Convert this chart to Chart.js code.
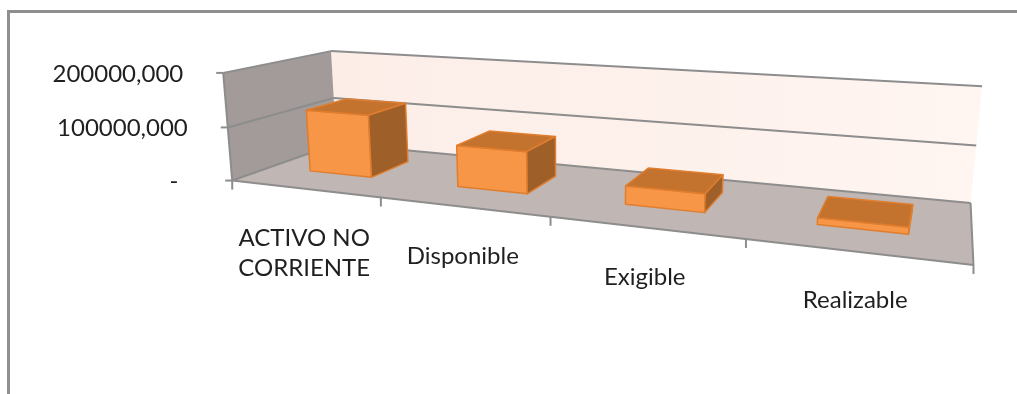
<!DOCTYPE html>
<html>
<head>
<meta charset="utf-8">
<script src="https://cdn.jsdelivr.net/npm/chart.js@4"></script>
<style>
    html, body { margin: 0; padding: 0; background: #fff; overflow: hidden; }
    #wrap { position: relative; width: 1017px; height: 394px; }
    #frame {
        position: absolute; left: 7px; top: 10px; right: -10px; bottom: -10px;
        border-top: 3px solid #8f8f8f; border-left: 3px solid #8f8f8f;
        pointer-events: none;
    }
    canvas { position: absolute; left: 0; top: 0; }
</style>
</head>
<body>
<div id="wrap">
    <canvas id="chart" width="1017" height="394"></canvas>
    <div id="frame"></div>
</div>
<script>
// categories and values (Bs.)
const categories = [['ACTIVO NO', 'CORRIENTE'], 'Disponible', 'Exigible', 'Realizable'];
const values = [118000000, 76000000, 32000000, 11000000];
const axisMax = 200000000;
const axisStep = 100000000;

// where the corners of the 3d box land on screen: [x, y, z, px, py]
// x = along categories, y = value (0..1), z = depth (0 front, 1 back)
const boxAnchors = [
    [0, 0, 0, 233, 178], [0, 0.5, 0, 228, 127], [0, 1, 0, 222, 74],
    [0.25, 0, 0, 381, 196], [0.5, 0, 0, 551, 217], [0.75, 0, 0, 746, 241], [1, 0, 0, 973, 267],
    [0, 0, 1, 335, 147], [0, 0.5, 1, 334, 98], [0, 1, 1, 332, 50],
    [1, 0, 1, 971, 200], [1, 0.5, 1, 976, 145], [1, 1, 1, 982, 87],
];
const barDepth = [0.34, 0.74];

const FONT = '"Lato", "Open Sans", sans-serif';
const TEXT = '#1f1f1f';

// least squares camera matrix (DLT) from the anchors
function fitCamera(pts) {
    const n = 11;
    const N = [];
    for (let i = 0; i < n; i++) N.push(new Array(n + 1).fill(0));
    const add = (row, b) => {
        for (let i = 0; i < n; i++) {
            for (let j = 0; j < n; j++) N[i][j] += row[i] * row[j];
            N[i][n] += row[i] * b;
        }
    };
    for (const [X, Y, Z, pu, pv] of pts) {
        const u = pu / 1000, v = pv / 1000;
        add([X, Y, Z, 1, 0, 0, 0, 0, -u * X, -u * Y, -u * Z], u);
        add([0, 0, 0, 0, X, Y, Z, 1, -v * X, -v * Y, -v * Z], v);
    }
    for (let c = 0; c < n; c++) {
        let piv = c;
        for (let r = c + 1; r < n; r++) if (Math.abs(N[r][c]) > Math.abs(N[piv][c])) piv = r;
        [N[c], N[piv]] = [N[piv], N[c]];
        for (let r = 0; r < n; r++) {
            if (r === c) continue;
            const f = N[r][c] / N[c][c];
            for (let k = c; k <= n; k++) N[r][k] -= f * N[c][k];
        }
    }
    return N.map((row, i) => row[n] / row[i]);
}

const cam = fitCamera(boxAnchors);

function project(X, Y, Z) {
    const w = cam[8] * X + cam[9] * Y + cam[10] * Z + 1;
    return [
        (cam[0] * X + cam[1] * Y + cam[2] * Z + cam[3]) / w * 1000,
        (cam[4] * X + cam[5] * Y + cam[6] * Z + cam[7]) / w * 1000,
    ];
}

function poly(ctx, pts, fill, stroke, lw) {
    ctx.beginPath();
    pts.forEach((p, i) => i ? ctx.lineTo(p[0], p[1]) : ctx.moveTo(p[0], p[1]));
    ctx.closePath();
    if (fill) { ctx.fillStyle = fill; ctx.fill(); }
    if (stroke) { ctx.strokeStyle = stroke; ctx.lineWidth = lw || 1; ctx.stroke(); }
}

function line(ctx, a, b, color, lw) {
    ctx.beginPath();
    ctx.moveTo(a[0], a[1]);
    ctx.lineTo(b[0], b[1]);
    ctx.strokeStyle = color;
    ctx.lineWidth = lw;
    ctx.stroke();
}

function signedArea(pts) {
    let s = 0;
    for (let i = 0; i < pts.length; i++) {
        const a = pts[i], b = pts[(i + 1) % pts.length];
        s += a[0] * b[1] - b[0] * a[1];
    }
    return s / 2;
}

function formatTick(v) {
    if (v === 0) return '-\u2007';
    return String(Math.round(v / 1000)) + ',000';
}

const box3d = {
    id: 'box3d',
    afterDatasetsDraw(chart) {
        const ctx = chart.ctx;
        const xs = chart.scales.x, ys = chart.scales.y;
        const nx = px => (px - xs.left) / xs.width;
        const ny = py => (ys.bottom - py) / ys.height;
        const P = (x, y, z) => project(x, y, z);
        const grid = '#8d8d8d';

        ctx.save();
        ctx.lineJoin = 'round';

        // back wall
        const bw = [P(0, 0, 1), P(1, 0, 1), P(1, 1, 1), P(0, 1, 1)];
        const g = ctx.createLinearGradient(bw[0][0], 0, bw[1][0], 0);
        g.addColorStop(0, '#fcede7');
        g.addColorStop(1, '#fff5f1');
        poly(ctx, bw, g);
        // left wall
        poly(ctx, [P(0, 0, 0), P(0, 0, 1), P(0, 1, 1), P(0, 1, 0)], '#a29b99');
        // floor
        poly(ctx, [P(0, 0, 0), P(1, 0, 0), P(1, 0, 1), P(0, 0, 1)], '#c0b6b3');

        // gridlines on the walls, one per value tick
        const yTicks = ys.ticks.map(t => t.value);
        yTicks.forEach(v => {
            const y = ny(ys.getPixelForValue(v));
            line(ctx, P(0, y, 0), P(0, y, 1), grid, 2);
            line(ctx, P(0, y, 1), P(1, y, 1), grid, 2);
        });

        // outline of the floor and the front edge of the left wall
        line(ctx, P(0, 0, 0), P(1, 0, 0), grid, 2);
        line(ctx, P(1, 0, 0), P(1, 0, 1), grid, 2);
        line(ctx, P(0, 0, 0), P(0, 1, 0), grid, 2);

        // value ticks and labels
        ctx.font = '24px ' + FONT;
        ctx.textAlign = 'right';
        ctx.textBaseline = 'middle';
        yTicks.forEach(v => {
            const y = ny(ys.getPixelForValue(v));
            const p = P(0, y, 0);
            line(ctx, [p[0] - 7, p[1]], p, grid, 2);
            ctx.fillStyle = TEXT;
            ctx.fillText(formatTick(v), p[0] - 40, p[1] + 1);
        });

        // category ticks on the floor edge
        const n = chart.data.labels.length;
        const step = n > 1 ? xs.getPixelForValue(1) - xs.getPixelForValue(0) : xs.width;
        for (let i = 0; i <= n; i++) {
            const x = nx(xs.getPixelForValue(0) - step / 2 + i * step);
            const p = P(x, 0, 0);
            line(ctx, p, [p[0], p[1] + 9], grid, 2);
        }

        // bars as boxes
        const meta = chart.getDatasetMeta(0);
        const [z0, z1] = barDepth;
        meta.data.forEach(bar => {
            const x0 = nx(bar.x - bar.width / 2), x1 = nx(bar.x + bar.width / 2);
            const y0 = ny(bar.base), y1 = ny(bar.y);
            const faces = [
                { c: '#f79646', v: [[x0, y0, z0], [x1, y0, z0], [x1, y1, z0], [x0, y1, z0]] },
                { c: '#c4732f', v: [[x0, y1, z0], [x1, y1, z0], [x1, y1, z1], [x0, y1, z1]] },
                { c: '#9f5f29', v: [[x1, y0, z0], [x1, y0, z1], [x1, y1, z1], [x1, y1, z0]] },
                { c: '#9f5f29', v: [[x0, y0, z1], [x0, y0, z0], [x0, y1, z0], [x0, y1, z1]] },
                { c: '#c4732f', v: [[x1, y0, z1], [x0, y0, z1], [x0, y1, z1], [x1, y1, z1]] },
            ];
            faces.forEach(f => {
                const pts = f.v.map(q => P(q[0], q[1], q[2]));
                if (signedArea(pts) < 0) poly(ctx, pts, f.c, '#e07d2e', 1.5);
            });
        });

        // category labels under the floor edge
        ctx.fillStyle = TEXT;
        ctx.textAlign = 'center';
        ctx.textBaseline = 'alphabetic';
        chart.data.labels.forEach((lab, i) => {
            const p = P(nx(xs.getPixelForValue(i)), 0, 0);
            const lines = Array.isArray(lab) ? lab : [lab];
            lines.forEach((t, k) => ctx.fillText(t, p[0], p[1] + 57 + k * 30));
        });

        ctx.restore();
    }
};

new Chart(document.getElementById('chart'), {
    type: 'bar',
    data: {
        labels: categories,
        datasets: [{
            data: values,
            backgroundColor: 'rgba(0,0,0,0)',
            borderWidth: 0,
            categoryPercentage: 1,
            barPercentage: 0.43,
        }]
    },
    options: {
        responsive: false,
        animation: false,
        events: [],
        layout: { padding: 0 },
        scales: {
            x: { display: false, offset: true },
            y: { display: false, min: 0, max: axisMax, ticks: { stepSize: axisStep } },
        },
        plugins: {
            legend: { display: false },
            tooltip: { enabled: false },
        },
    },
    plugins: [box3d],
});
</script>
</body>
</html>
